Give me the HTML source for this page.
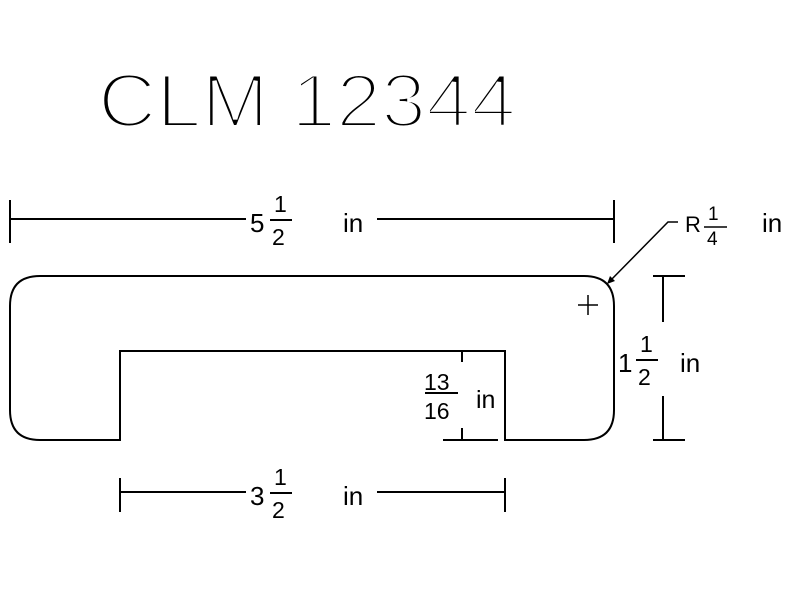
<!DOCTYPE html>
<html><head><style>
html,body{margin:0;padding:0;background:#fff;}
svg{display:block;}
text{font-family:"Liberation Sans",sans-serif;fill:#000;}
</style></head><body>
<svg width="800" height="600" viewBox="0 0 800 600" xmlns="http://www.w3.org/2000/svg">
<text x="98" y="127" font-size="76" textLength="418" lengthAdjust="spacingAndGlyphs" stroke="#fff" stroke-width="4">CLM 12344</text>
<g stroke="#000" stroke-width="2" fill="none">
<path d="M40,276 L584,276 Q614,276 614,306 L614,410 Q614,440 584,440 L505,440 L505,351 L120,351 L120,440 L40,440 Q10,440 10,410 L10,306 Q10,276 40,276 Z"/>
<line x1="10" y1="200" x2="10" y2="243"/>
<line x1="614" y1="200" x2="614" y2="243"/>
<line x1="10" y1="219" x2="246" y2="219"/>
<line x1="377" y1="219" x2="614" y2="219"/>
<line x1="120" y1="478" x2="120" y2="512"/>
<line x1="505" y1="478" x2="505" y2="512"/>
<line x1="120" y1="492" x2="246" y2="492"/>
<line x1="377" y1="492" x2="505" y2="492"/>
<line x1="653" y1="276" x2="685" y2="276"/>
<line x1="653" y1="440" x2="685" y2="440"/>
<line x1="663" y1="276" x2="663" y2="322"/>
<line x1="663" y1="396" x2="663" y2="440"/>
<line x1="462" y1="351" x2="462" y2="362"/>
<line x1="462" y1="428" x2="462" y2="440"/>
<line x1="443" y1="440" x2="498" y2="440"/>
<line x1="425" y1="393" x2="458" y2="393"/>
<polyline points="609,282 668,222 678,222" stroke-width="1.5"/>
<line x1="578" y1="305" x2="598" y2="305" stroke-width="1.5"/>
<line x1="588" y1="295" x2="588" y2="315" stroke-width="1.5"/>
<line x1="270" y1="220" x2="292" y2="220"/>
<line x1="270" y1="493" x2="292" y2="493"/>
<line x1="636" y1="360" x2="658" y2="360"/>
<line x1="704" y1="227" x2="727" y2="227" stroke-width="1.5"/>
</g>
<path d="M607,284 L610,276 L615,281 Z" fill="#000"/>
<g font-size="26">
<text x="250" y="232">5</text>
<text x="343" y="232">in</text>
<text x="250" y="505">3</text>
<text x="343" y="505">in</text>
<text x="618" y="372">1</text>
<text x="680" y="372">in</text>
<text x="762" y="232">in</text>
<text x="685" y="232" font-size="22">R</text>
</g>
<g font-size="23">
<text x="274" y="212">1</text>
<text x="272" y="245">2</text>
<text x="274" y="485">1</text>
<text x="272" y="518">2</text>
<text x="640" y="352">1</text>
<text x="638" y="385">2</text>
<text x="708" y="220" font-size="19">1</text>
<text x="707" y="245" font-size="19">4</text>
<text x="424" y="390">13</text>
<text x="424" y="419">16</text>
<text x="476" y="408" font-size="25">in</text>
</g>
</svg>
</body></html>
